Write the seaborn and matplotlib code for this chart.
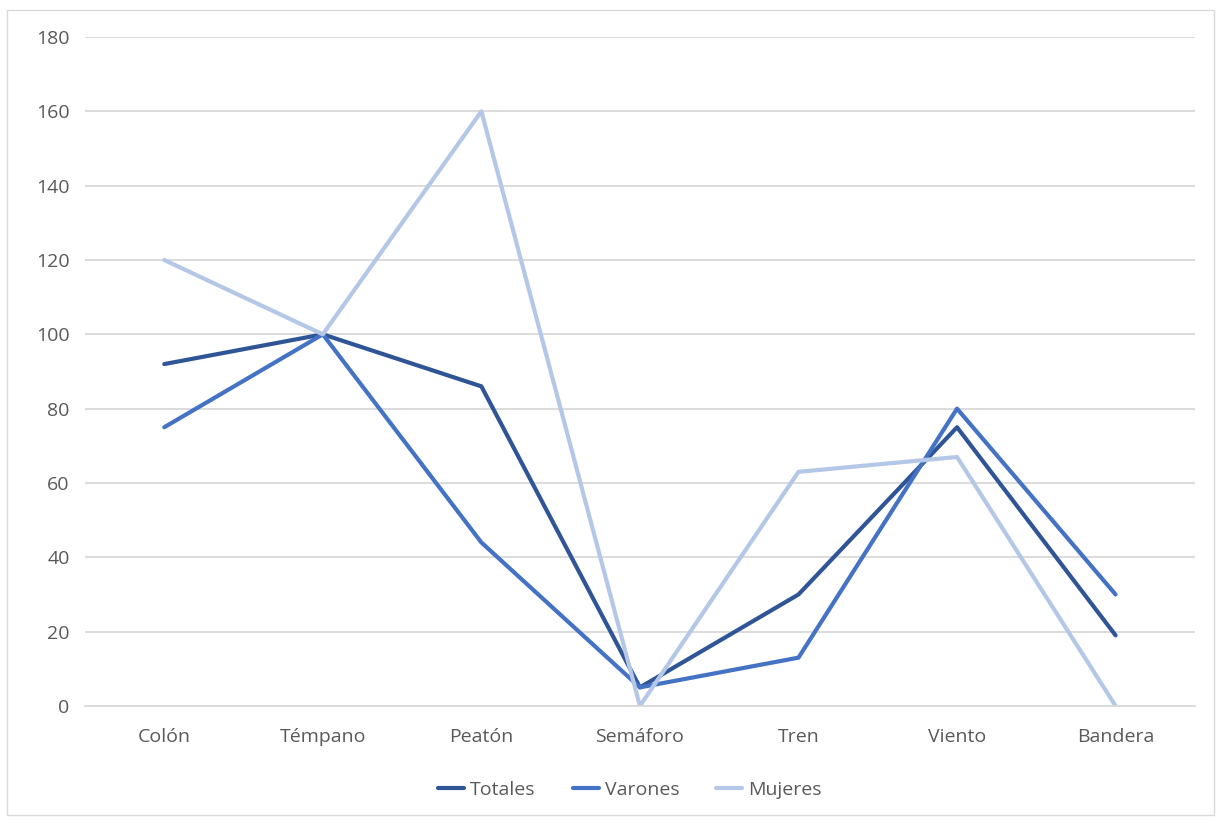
import matplotlib
matplotlib.use("Agg")
import matplotlib.pyplot as plt
import seaborn as sns
import pandas as pd
from matplotlib.patches import Rectangle

categorias = ["Colón", "Témpano", "Peatón", "Semáforo", "Tren", "Viento", "Bandera"]
totales = [92, 100, 86, 5, 30, 75, 19]
varones = [75, 100, 44, 5, 13, 80, 30]
mujeres = [120, 100, 160, 0, 63, 67, 0]
series = ["Totales", "Varones", "Mujeres"]
colores = ["#2F5597", "#4472C4", "#B4C7E7"]
y_ticks = [0, 20, 40, 60, 80, 100, 120, 140, 160, 180]

df = pd.DataFrame({
    "categoria": categorias * 3,
    "valor": totales + varones + mujeres,
    "serie": [s for s in series for _ in categorias],
})

sns.set_theme(style="white")
plt.rcParams["font.family"] = ["Open Sans", "DejaVu Sans"]

fig = plt.figure(figsize=(12.21, 8.23), dpi=100)
ax = fig.add_axes([0.0696, 0.1422, 0.909, 0.8128])

fig.patches.append(Rectangle((7 / 1221, 8 / 823), 1207 / 1221, 805 / 823,
                             transform=fig.transFigure, fill=False,
                             edgecolor="#D9D9D9", linewidth=1.0, zorder=0))

sns.lineplot(data=df, x="categoria", y="valor", hue="serie", hue_order=series,
             palette=colores, sort=False, linewidth=3.0, ax=ax, legend=True)

ax.set_xlim(-0.5, len(categorias) - 0.5)
ax.set_ylim(0, 180)
ax.set_yticks(y_ticks)
ax.set_xlabel("")
ax.set_ylabel("")
ax.yaxis.grid(True, color="#D9D9D9", linewidth=1.3)
ax.set_axisbelow(True)
for side in ["top", "right", "left"]:
    ax.spines[side].set_visible(False)
ax.spines["bottom"].set_color("#D9D9D9")
ax.spines["bottom"].set_linewidth(1.3)
ax.tick_params(axis="both", length=0, labelsize=14, colors="#595959")
ax.tick_params(axis="y", pad=11)
ax.tick_params(axis="x", pad=16)

handles, labels = ax.get_legend_handles_labels()
ax.legend(handles, labels, loc="center", bbox_to_anchor=(0.491, -0.125),
          ncol=3, frameon=False, fontsize=14, handlelength=1.35,
          handletextpad=0.3, columnspacing=1.9, labelcolor="#595959")

fig.savefig("out.png", dpi=100)
